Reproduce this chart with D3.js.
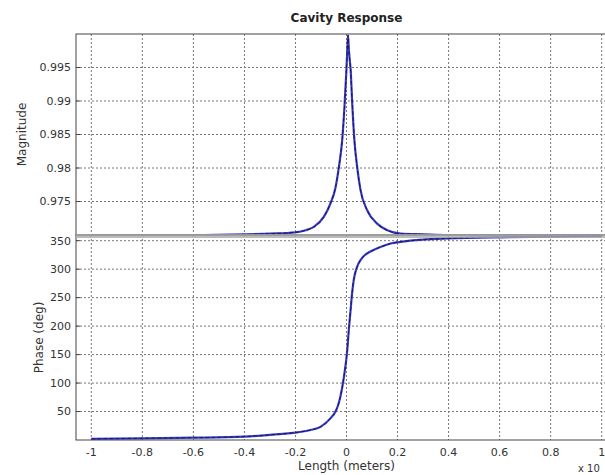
<!DOCTYPE html>
<html>
<head>
<meta charset="utf-8">
<script src="https://cdn.jsdelivr.net/npm/d3@7"></script>
<style>
  body { margin: 0; background: #fff; }
  text { font-family: "DejaVu Sans", sans-serif; fill: #333; }
</style>
</head>
<body>
<svg id="chart"></svg>
<script>
// values
const magX = [-1, -0.8, -0.6, -0.4, -0.3, -0.2, -0.16, -0.128, -0.089, -0.063, -0.043, -0.030, -0.017, -0.008, -0.001, 0.003, 0.006, 0.009, 0.013, 0.016, 0.022, 0.031, 0.042, 0.055, 0.081, 0.120, 0.160, 0.212, 0.3, 0.4, 0.6, 0.8, 1.0];
const magY = [0.9700, 0.9700, 0.9700, 0.9701, 0.9702, 0.9704, 0.9707, 0.9712, 0.9727, 0.9747, 0.9771, 0.9801, 0.9841, 0.9891, 0.9941, 0.9975, 0.9998, 0.9978, 0.9960, 0.9948, 0.9900, 0.9841, 0.9801, 0.9767, 0.9737, 0.9717, 0.9707, 0.9702, 0.9701, 0.9700, 0.9700, 0.9700, 0.9700];

const phaseX = [-1, -0.8, -0.6, -0.4, -0.3, -0.193, -0.141, -0.102, -0.063, -0.043, -0.033, -0.024, -0.010, 0.003, 0.009, 0.016, 0.022, 0.028, 0.035, 0.045, 0.055, 0.070, 0.094, 0.133, 0.173, 0.212, 0.3, 0.4, 0.6, 0.8, 1.0];
const phaseY = [2, 3, 4, 6, 9, 13.5, 17.5, 23, 38, 50, 61, 76, 111, 158, 193, 228, 258, 280, 295, 308, 316, 324, 331, 339, 345, 348, 352, 354, 356, 357, 358];

const xTicks = [-1, -0.8, -0.6, -0.4, -0.2, 0, 0.2, 0.4, 0.6, 0.8, 1];
const xTickLabels = ["-1", "-0.8", "-0.6", "-0.4", "-0.2", "0", "0.2", "0.4", "0.6", "0.8", "1"];
const magTicks = [0.975, 0.98, 0.985, 0.99, 0.995];
const magTickLabels = ["0.975", "0.98", "0.985", "0.99", "0.995"];
const phaseTicks = [50, 100, 150, 200, 250, 300, 350];

const svg = d3.select("#chart").attr("width", 605).attr("height", 475);

const x = d3.scaleLinear().domain([-1.06, 1.06]).range([76, 617]);
const yMag = d3.scaleLinear().domain([0.97, 1.0]).range([235, 34]);
const yPhase = d3.scaleLinear().domain([0, 360]).range([440, 235]);

const drawPanel = (y, yTicks, yLabels, xs, ys, clipId, showX) => {
    const [top, bottom] = [y.range()[1], y.range()[0]];
    const [left, right] = x.range();

    svg.append("clipPath").attr("id", clipId)
        .append("rect")
        .attr("x", left).attr("y", top)
        .attr("width", right - left).attr("height", bottom - top);

    // dotted grid
    svg.append("g").selectAll("line")
        .data(xTicks)
        .join("line")
            .attr("x1", d => x(d)).attr("x2", d => x(d))
            .attr("y1", top).attr("y2", bottom)
            .style("stroke", "#777")
            .style("stroke-dasharray", "2,2");
    svg.append("g").selectAll("line")
        .data(yTicks)
        .join("line")
            .attr("x1", left).attr("x2", right)
            .attr("y1", d => y(d)).attr("y2", d => y(d))
            .style("stroke", "#777")
            .style("stroke-dasharray", "2,2");

    // axes box
    svg.append("rect")
        .attr("x", left).attr("y", top)
        .attr("width", right - left).attr("height", bottom - top)
        .style("fill", "none")
        .style("stroke", "#444");

    // inward ticks
    svg.append("g").selectAll("line")
        .data(yTicks)
        .join("line")
            .attr("x1", left).attr("x2", left + 4)
            .attr("y1", d => y(d)).attr("y2", d => y(d))
            .style("stroke", "#444");

    svg.append("g").selectAll("text")
        .data(yTicks)
        .join("text")
            .attr("x", left - 5)
            .attr("y", d => y(d))
            .attr("dy", "0.35em")
            .attr("text-anchor", "end")
            .style("font-size", "11px")
            .text((d, i) => yLabels[i]);

    const pts = xs.map((d, i) => [d, ys[i]]);
    const line = d3.line()
        .x(d => x(d[0]))
        .y(d => y(d[1]))
        .curve(d3.curveMonotoneX);
    const g = svg.append("g").attr("clip-path", `url(#${clipId})`);
    g.append("path")
        .datum(pts)
        .attr("d", line)
        .style("fill", "none")
        .style("stroke", "#3a3ad0")
        .style("stroke-width", 2.2);
    g.append("path")
        .datum(pts)
        .attr("d", line)
        .style("fill", "none")
        .style("stroke", "#1a1a40")
        .style("stroke-width", 1)
        .style("stroke-dasharray", "4,2");

    if(showX){
        svg.append("g").selectAll("text")
            .data(xTicks)
            .join("text")
                .attr("x", d => x(d))
                .attr("y", bottom + 16)
                .attr("text-anchor", "middle")
                .style("font-size", "11px")
                .text((d, i) => xTickLabels[i]);
    }
};

drawPanel(yMag, magTicks, magTickLabels, magX, magY, "clipMag", false);
drawPanel(yPhase, phaseTicks, phaseTicks.map(String), phaseX, phaseY, "clipPhase", true);

// the two touching axes edges read as a grey band
svg.append("line")
    .attr("x1", x.range()[0]).attr("x2", x.range()[1])
    .attr("y1", yMag(0.97) + 1).attr("y2", yMag(0.97) + 1)
    .style("stroke", "#aaa")
    .style("stroke-opacity", 0.8)
    .style("stroke-width", 4);

svg.append("text")
    .attr("x", x(0))
    .attr("y", 22)
    .attr("text-anchor", "middle")
    .style("font-size", "12px")
    .style("font-weight", "bold")
    .style("fill", "#222")
    .text("Cavity Response");

svg.append("text")
    .attr("transform", `translate(22,${(yMag(1) + yMag(0.97)) / 2}) rotate(-90)`)
    .attr("text-anchor", "middle")
    .attr("dy", "0.35em")
    .style("font-size", "12px")
    .text("Magnitude");

svg.append("text")
    .attr("transform", `translate(39,${(yPhase(0) + yPhase(360)) / 2}) rotate(-90)`)
    .attr("text-anchor", "middle")
    .attr("dy", "0.35em")
    .style("font-size", "12px")
    .text("Phase (deg)");

svg.append("text")
    .attr("x", x(0))
    .attr("y", 470)
    .attr("text-anchor", "middle")
    .style("font-size", "12px")
    .text("Length (meters)");

svg.append("text")
    .attr("x", 578)
    .attr("y", 472)
    .style("font-size", "10px")
    .text("x 10");
</script>
</body>
</html>
